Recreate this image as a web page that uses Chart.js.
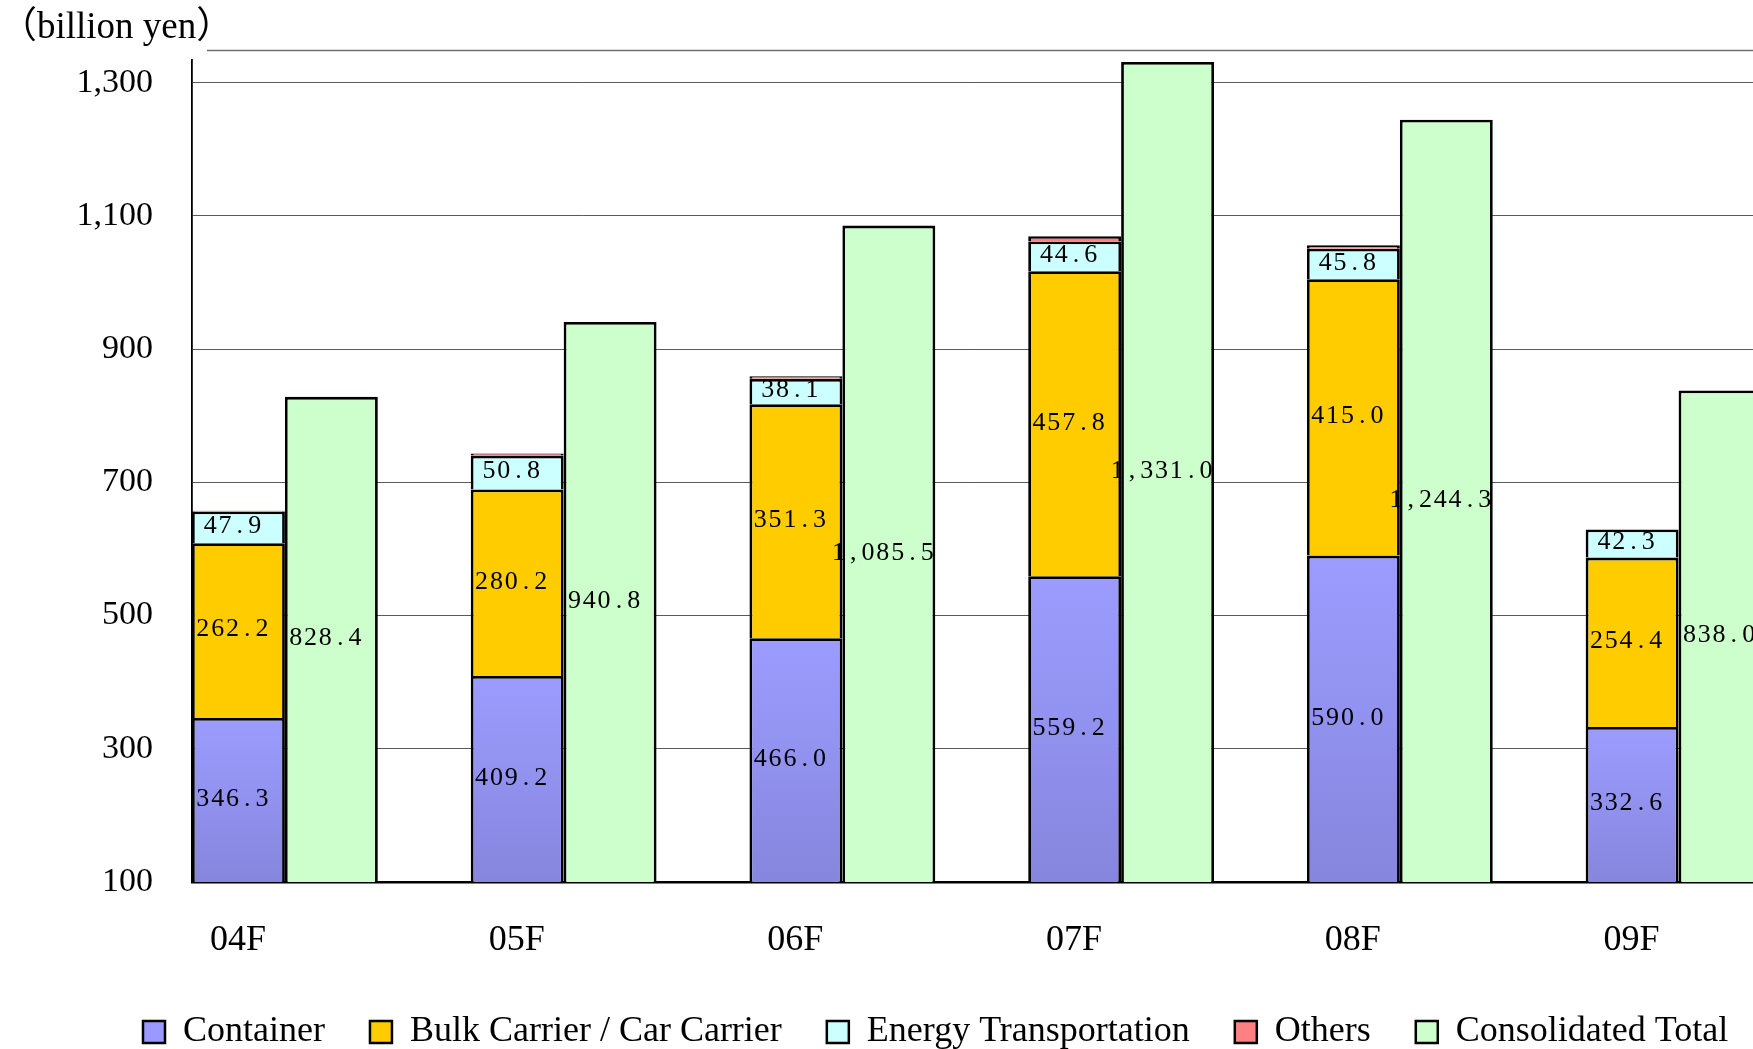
<!DOCTYPE html>
<html>
<head>
<meta charset="utf-8">
<script src="https://cdn.jsdelivr.net/npm/chart.js@4.4.1/dist/chart.umd.min.js"></script>
<style>
  html, body { margin: 0; padding: 0; background: #fff; }
  #wrap { width: 1753px; height: 1049px; position: relative; }
</style>
</head>
<body>
<div id="wrap"><canvas id="c"></canvas></div>
<script>
// ---- data ----
const categories = ['04F', '05F', '06F', '07F', '08F', '09F'];
const container  = [346.3, 409.2, 466.0, 559.2, 590.0, 332.6];
const bulkCar    = [262.2, 280.2, 351.3, 457.8, 415.0, 254.4];
const energy     = [47.9, 50.8, 38.1, 44.6, 45.8, 42.3];
const others     = [1.0, 3.0, 4.0, 8.0, 5.0, 0];
const consolidated = [828.4, 940.8, 1085.5, 1331.0, 1244.3, 838.0];
const yTickValues = [100, 300, 500, 700, 900, 1100, 1300];
const seriesNames = ['Container', 'Bulk Carrier / Car Carrier', 'Energy Transportation', 'Others', 'Consolidated Total'];
const unitLabel = '（billion yen）';

const SERIF = '"Liberation Serif", "Times New Roman", "Noto Sans CJK JP", serif';
const legendFills = ['#9999FF', '#FFCC00', '#CCFFFF', '#FF8080', '#CCFFCC'];

const toPoints = arr => arr.map((v, i) => ({ x: i, y: v }));
const fmt = v => v.toLocaleString('en-US', { minimumFractionDigits: 1, maximumFractionDigits: 1 });

function containerFill(ctx) {
  const chart = ctx.chart;
  const area = chart.chartArea;
  if (!area || ctx.type !== 'data' || !chart.scales.y) return '#9999FF';
  const top = chart.scales.y.getPixelForValue(ctx.raw.y);
  if (!isFinite(top)) return '#9999FF';
  const g = chart.ctx.createLinearGradient(0, top, 0, area.bottom);
  g.addColorStop(0, '#9C9CFF');
  g.addColorStop(1, '#8686DE');
  return g;
}

const valueLabels = {
  id: 'valueLabels',
  afterDatasetsDraw(chart) {
    const { ctx, chartArea } = chart;
    ctx.save();
    ctx.font = '26px ' + SERIF;
    ctx.fillStyle = '#000';
    ctx.textAlign = 'center';
    ctx.textBaseline = 'middle';
    chart.data.datasets.forEach((ds, di) => {
      if (!ds.showValues) return;
      const meta = chart.getDatasetMeta(di);
      meta.data.forEach((el, i) => {
        const v = ds.data[i].y;
        const p = el.getProps(['x', 'y', 'base'], true);
        const b = Math.min(p.base, chartArea.bottom);
        const t = Math.max(p.y, chartArea.top);
        const cy = (t + b) / 2 - 1;
        const txt = fmt(v);
        const adv = 14.8;
        let sx = p.x - 6 - txt.length * adv / 2 + adv / 2;
        for (const ch of txt) { ctx.fillText(ch, sx, cy); sx += adv; }
      });
    });
    ctx.restore();
  }
};

const decor = {
  id: 'decor',
  beforeDraw(chart) {
    // place legend row like the reference
    const lg = chart.legend;
    if (lg) {
      const P = lg.options.labels.padding;
      const itemH = Math.max(lg.options.labels.font.size || 36, lg.options.labels.boxHeight || 0);
      lg.top = chart.height - 17 - itemH / 2 - P;
      lg.bottom = chart.height;
      lg.left = chart.chartArea.left - 49 - P;
      lg.right = chart.width + 300;
    }
  },
  afterDraw(chart) {
    const { ctx, chartArea } = chart;
    ctx.save();
    ctx.strokeStyle = '#707070';
    ctx.lineWidth = 1.5;
    ctx.beginPath();
    const yy = Math.round(chartArea.top - 9.5) + 0.5;
    ctx.moveTo(chartArea.left + 15, yy);
    ctx.lineTo(chart.width, yy);
    ctx.stroke();
    ctx.restore();
  }
};

const common = { borderColor: '#000', borderWidth: 2.8, categoryPercentage: 2 / 3, barPercentage: 1 };

new Chart(document.getElementById('c'), {
  type: 'bar',
  data: {
    datasets: [
      { label: seriesNames[0], data: toPoints(container), stack: 'seg', backgroundColor: containerFill, showValues: true, ...common },
      { label: seriesNames[1], data: toPoints(bulkCar), stack: 'seg', backgroundColor: '#FFCC00', showValues: true, ...common },
      { label: seriesNames[2], data: toPoints(energy), stack: 'seg', backgroundColor: '#CCFFFF', showValues: true, ...common },
      { label: seriesNames[3], data: toPoints(others), stack: 'seg', backgroundColor: '#FF8080', showValues: false, ...common },
      { label: seriesNames[4], data: toPoints(consolidated), stack: 'tot', backgroundColor: '#CCFFCC', showValues: true, ...common }
    ]
  },
  options: {
    responsive: true,
    maintainAspectRatio: false,
    animation: false,
    layout: { padding: 0 },
    datasets: { bar: { clip: 0 } },
    scales: {
      x: {
        type: 'linear',
        offset: false,
        min: -1 / 3,
        max: 5.267,
        grid: { display: false, offset: false },
        border: { display: true, color: '#000', width: 2.5 },
        afterBuildTicks: s => { s.ticks = categories.map((c, i) => ({ value: i })); },
        afterFit: s => { s.height = 107; },
        ticks: {
          autoSkip: false, maxRotation: 0, minRotation: 0,
          padding: 29,
          labelOffset: -47,
          color: '#000',
          font: { family: SERIF, size: 36 },
          callback: v => categories[Math.round(v)] ?? ''
        }
      },
      y: {
        stacked: true,
        min: 100,
        max: 1335,
        grid: { color: '#5a5a5a', lineWidth: 1, drawTicks: false },
        border: { display: true, color: '#000', width: 1.8 },
        afterBuildTicks: s => { s.ticks = yTickValues.map(v => ({ value: v })); },
        afterFit: s => { s.width = 192; },
        ticks: {
          padding: 39,
          color: '#000',
          font: { family: SERIF, size: 34 },
          callback: v => Number(v).toLocaleString('en-US')
        }
      }
    },
    plugins: {
      title: {
        display: true,
        text: unitLabel,
        align: 'start',
        color: '#000',
        font: { family: SERIF, size: 37, weight: 'normal' },
        padding: { top: 4, bottom: 9 }
      },
      legend: {
        display: true,
        position: 'bottom',
        align: 'start',
        maxHeight: 60,
        labels: {
          color: '#000',
          font: { family: SERIF, size: 36 },
          boxWidth: 22,
          boxHeight: 22,
          padding: 45,
          generateLabels(chart) {
            const items = Chart.defaults.plugins.legend.labels.generateLabels(chart);
            items.forEach(it => {
              it.fillStyle = legendFills[it.datasetIndex];
              it.strokeStyle = '#000';
              it.lineWidth = 2.5;
            });
            return items;
          }
        }
      },
      tooltip: { enabled: false }
    }
  },
  plugins: [valueLabels, decor]
});
</script>
</body>
</html>
